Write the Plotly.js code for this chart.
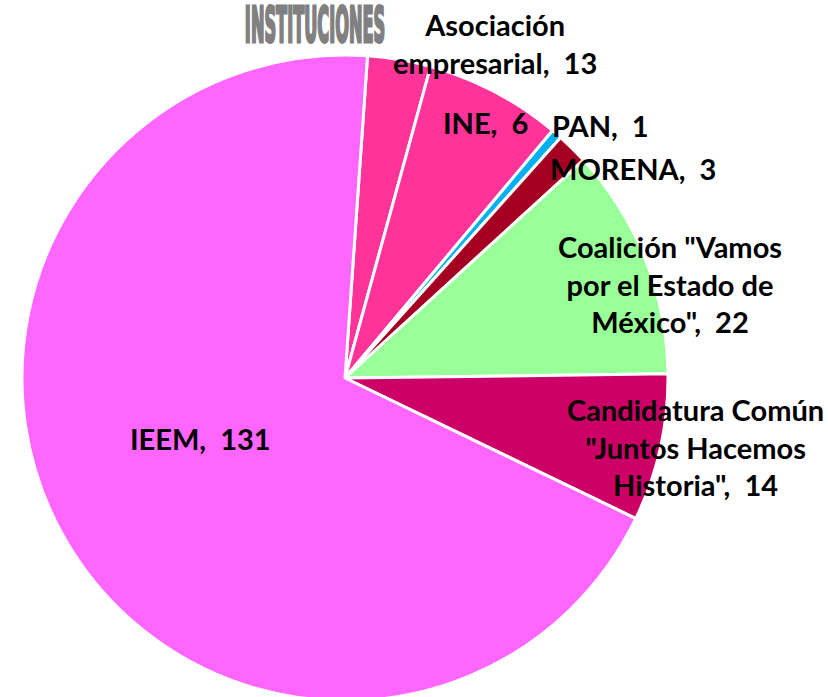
<!DOCTYPE html>
<html>
<head>
<meta charset="utf-8">
<script src="https://cdn.plot.ly/plotly-3.0.1.min.js"></script>
<style>
  html, body { margin: 0; padding: 0; background: #ffffff; overflow: hidden; }
  #chart { width: 828px; height: 705px; }
</style>
</head>
<body>
<div id="chart"></div>
<script>
// ---- data ----
const labels = ['INE', 'Asociación empresarial', 'PAN', 'MORENA',
  'Coalición "Vamos por el Estado de México"',
  'Candidatura Común "Juntos Hacemos Historia"', 'IEEM'];
const values = [6, 13, 1, 3, 22, 14, 131];
const colors = ['#FF3399', '#FF3399', '#00B0F0', '#A50021', '#99FF99', '#CC0066', '#FF66FF'];
// wrapped display names for the data labels
const displayNames = ['INE', 'Asociación<br>empresarial', 'PAN', 'MORENA',
  'Coalición "Vamos<br>por el Estado de<br>México"',
  'Candidatura Común<br>"Juntos Hacemos<br>Historia"', 'IEEM'];
const titleText = 'INSTITUCIONES';

// ---- layout helpers (pixel positions of label centres) ----
const W = 828, H = 705;
const labelPos = [[485, 122], [495, 44], [600, 125], [633, 168], [670, 284], [695, 447], [200, 438]];

const annotations = labels.map((l, i) => ({
  xref: 'paper', yref: 'paper',
  x: labelPos[i][0] / W, y: (H - labelPos[i][1]) / H,
  xanchor: 'center', yanchor: 'middle',
  text: displayNames[i] + ',\u00a0 ' + values[i],
  showarrow: false, align: 'center',
  font: {family: 'Lato, sans-serif', size: 29, color: '#000000', weight: 'bold'}
}));
annotations.push({
  xref: 'paper', yref: 'paper', x: 315 / W, y: (H - 25) / H,
  xanchor: 'center', yanchor: 'middle', showarrow: false,
  text: titleText,
  font: {family: '"DejaVu Sans Condensed", "DejaVu Sans", sans-serif', size: 50, color: '#808080', weight: 'bold'}
});

const trace = {
  type: 'pie',
  labels: labels,
  values: values,
  sort: false,
  direction: 'clockwise',
  rotation: 4,
  textinfo: 'none',
  hoverinfo: 'label+value',
  marker: {colors: colors, line: {color: '#ffffff', width: 3}},
  domain: {x: [22 / W, 668 / W], y: [(H - 378 - 323) / H, (H - 378 + 323) / H]},
  showlegend: false
};

const layout = {
  width: W, height: H,
  margin: {l: 0, r: 0, t: 0, b: 0},
  paper_bgcolor: '#ffffff',
  plot_bgcolor: '#ffffff',
  showlegend: false,
  annotations: annotations
};

Plotly.newPlot('chart', [trace], layout, {displayModeBar: false, staticPlot: true}).then(() => {
  document.querySelectorAll('.annotation-text').forEach(t => {
    if (t.textContent === titleText) {
      t.style.transformBox = 'fill-box';
      t.style.transformOrigin = 'center';
      t.style.transform = 'scaleX(0.36)';
      t.style.stroke = '#808080';
      t.style.strokeWidth = '3px';
      t.style.strokeLinejoin = 'miter';
      t.style.paintOrder = 'stroke';
    }
  });
});
</script>
</body>
</html>
